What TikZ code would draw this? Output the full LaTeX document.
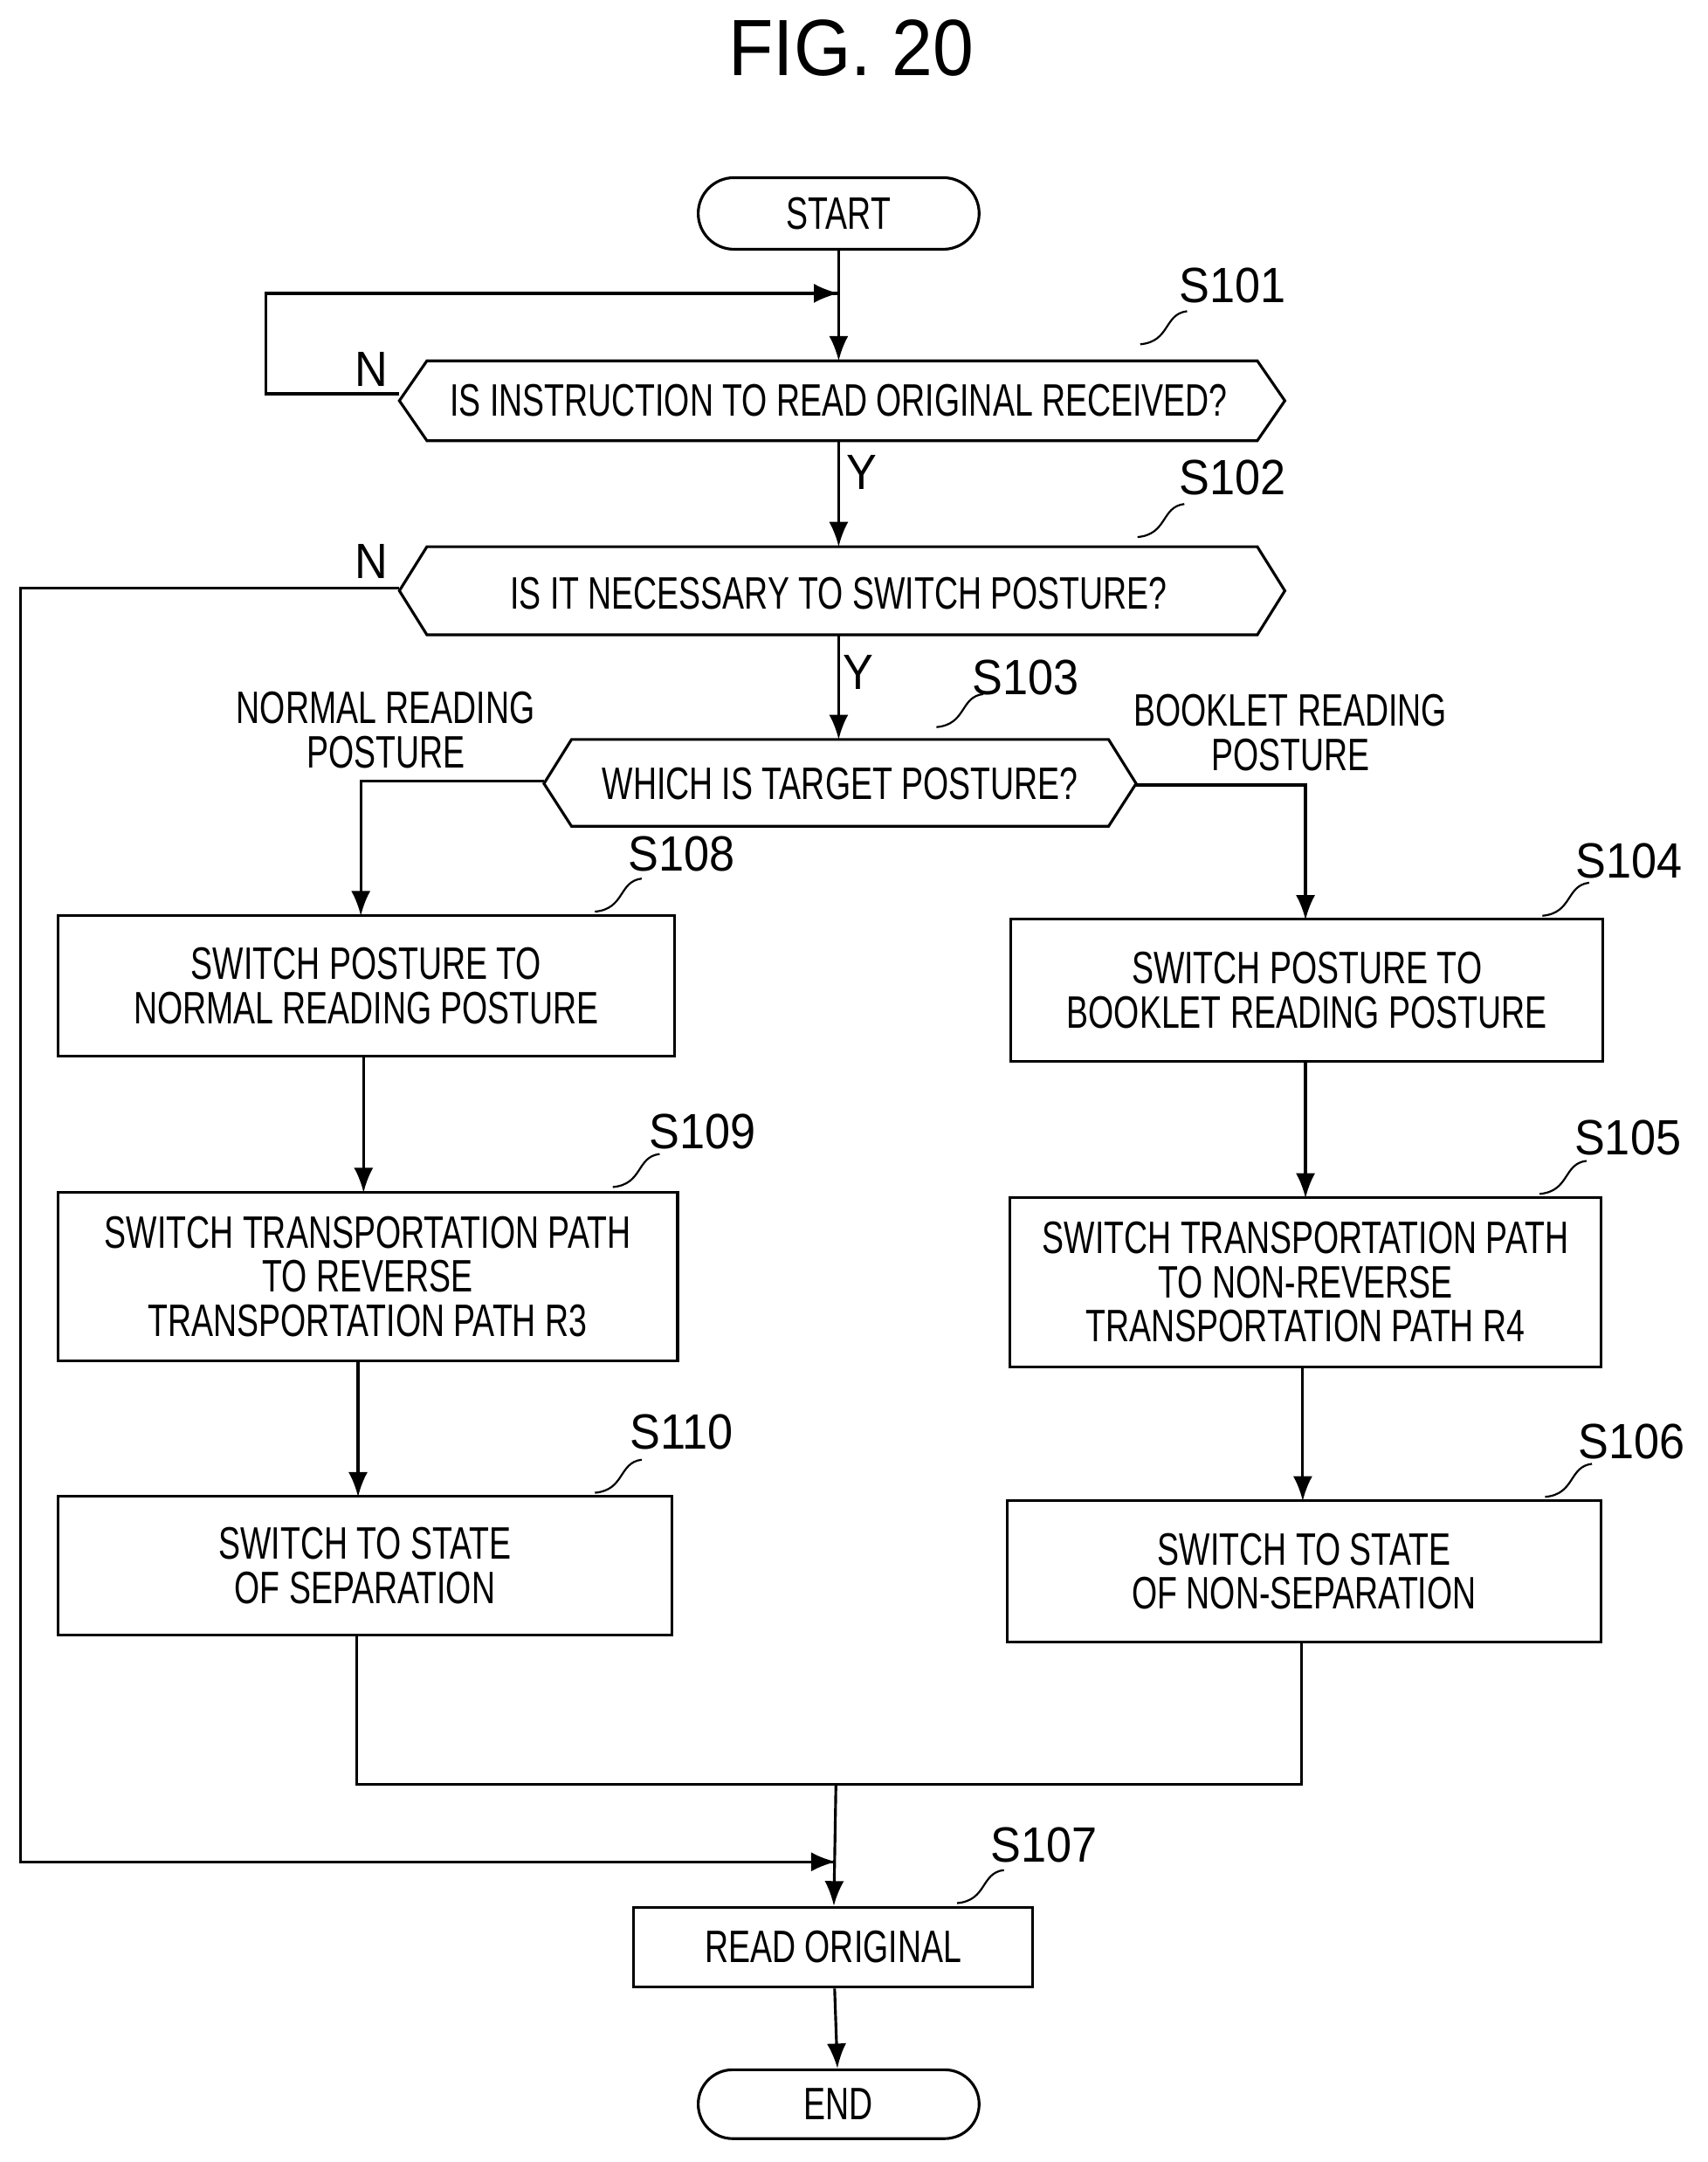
\documentclass[tikz,border=0pt]{standalone}
\usepackage{fontspec}
\setmainfont{Liberation Sans}[FakeStretch=0.72]
\newfontfamily\figfont{Liberation Sans}[FakeStretch=0.92]
\usetikzlibrary{arrows.meta}
\begin{document}
\begin{tikzpicture}[x=0.5pt,y=-0.5pt,
  every node/.style={font=\fontsize{16.5}{17}\selectfont, align=center, inner sep=0pt},
  ln/.style={line width=1pt},
  ar/.style={ln,-{Latex[length=9pt,width=7pt]}},
  lbl/.style={font=\figfont\fontsize{18}{20}\selectfont},
  sq/.style={line width=0.7pt}]
\useasboundingbox (0,0) rectangle (1240,1570);
\node[font=\figfont\fontsize{29}{32}\selectfont] (fig) at (618,35) {FIG. 20};
% start / end
\node[draw,ln,rounded corners=13pt,minimum width=102pt,minimum height=26pt] (start) at (609,155) {START};
\node[draw,ln,rounded corners=12.5pt,minimum width=102pt,minimum height=25pt] (end) at (609,1528) {END};
% hexagons
\draw[ln] (290,291)--(310,262)--(913,262)--(933,291)--(913,320)--(310,320)--cycle;
\node (s101) at (609,291) {IS INSTRUCTION TO READ ORIGINAL RECEIVED?};
\draw[ln] (290,429)--(310,397)--(913,397)--(933,429)--(913,461)--(310,461)--cycle;
\node (s102) at (609,431) {IS IT NECESSARY TO SWITCH POSTURE?};
\draw[ln] (395,569)--(415,537)--(805,537)--(825,569)--(805,600)--(415,600)--cycle;
\node (s103) at (610,569) {WHICH IS TARGET POSTURE?};
% boxes
\node[draw,ln,minimum width=224pt,minimum height=51pt] (s108) at (266,716) {SWITCH POSTURE TO\\[-1pt]NORMAL READING POSTURE};
\node[draw,ln,minimum width=225pt,minimum height=61pt] (s109) at (267,927) {SWITCH TRANSPORTATION PATH\\[-1pt]TO REVERSE\\[-1pt]TRANSPORTATION PATH R3};
\node[draw,ln,minimum width=223pt,minimum height=50.5pt] (s110) at (265,1137) {SWITCH TO STATE\\[-1pt]OF SEPARATION};
\node[draw,ln,minimum width=215pt,minimum height=51.5pt] (s104) at (949,719) {SWITCH POSTURE TO\\[-1pt]BOOKLET READING POSTURE};
\node[draw,ln,minimum width=214.5pt,minimum height=61.5pt] (s105) at (948,931) {SWITCH TRANSPORTATION PATH\\[-1pt]TO NON-REVERSE\\[-1pt]TRANSPORTATION PATH R4};
\node[draw,ln,minimum width=215.5pt,minimum height=51.5pt] (s106) at (947,1141) {SWITCH TO STATE\\[-1pt]OF NON-SEPARATION};
\node[draw,ln,minimum width=145pt,minimum height=29pt] (s107) at (605,1414) {READ ORIGINAL};
% step labels
\node[lbl] (l101) at (895,207) {S101};
\node[lbl] (l102) at (895,347) {S102};
\node[lbl] (l103) at (745,492) {S103};
\node[lbl] (l108) at (495,620) {S108};
\node[lbl] (l109) at (510,822) {S109};
\node[lbl] (l110) at (495,1040) {S110};
\node[lbl] (l104) at (1183,625) {S104};
\node[lbl] (l105) at (1182,826) {S105};
\node[lbl] (l106) at (1185,1047) {S106};
\node[lbl] (l107) at (758,1340) {S107};
\draw[sq] (828,250) .. controls (850,248) and (845,228) .. (862,226);
\draw[sq] (826,390) .. controls (848,388) and (843,368) .. (860,366);
\draw[sq] (680,528) .. controls (702,526) and (697,506) .. (714,504);
\draw[sq] (432,662) .. controls (454,660) and (449,640) .. (466,638);
\draw[sq] (445,862) .. controls (467,860) and (462,840) .. (479,838);
\draw[sq] (432,1084) .. controls (454,1082) and (449,1062) .. (466,1060);
\draw[sq] (1120,665) .. controls (1142,663) and (1137,643) .. (1154,641);
\draw[sq] (1118,867) .. controls (1140,865) and (1135,845) .. (1152,843);
\draw[sq] (1122,1087) .. controls (1144,1085) and (1139,1065) .. (1156,1063);
\draw[sq] (695,1382) .. controls (717,1380) and (712,1360) .. (729,1358);
% Y/N labels
\node[lbl] (n1) at (270,268) {N};
\node[lbl] (n2) at (270,408) {N};
\node[lbl] (y1) at (626,343) {Y};
\node[lbl] (y2) at (623,488) {Y};
\node (np) at (280,530) {NORMAL READING\\[-1pt]POSTURE};
\node (bp) at (937,532) {BOOKLET READING\\[-1pt]POSTURE};
% connectors
\coordinate (j1) at (609,213);
\coordinate (j2) at (607,1352);
\coordinate (j3) at (607,1296);
\draw[ar] (start) -- (609,262);
\draw[ar] (609,320) -- (609,397);
\draw[ar] (609,461) -- (609,537);
\draw[ln] (290,286) -- (193,286) -- (193,213) -- (j1);
\draw[ar] (193,213) -- (609,213);
\draw[ln] (290,427) -- (15,427) -- (15,1352) -- (j2);
\draw[ar] (15,1352) -- (607,1352);
\draw[ar] (395,567) -- (262,567) -- (262,665);
\draw[ar] (825,570) -- (948,570) -- (948,668);
\draw[ar] (264,767) -- (264,866);
\draw[ar] (260,988) -- (260,1087);
\draw[ar] (948,771) -- (948,870);
\draw[ar] (946,993) -- (946,1090);
\draw[ln] (259,1188) -- (259,1296) -- (945,1296) -- (945,1193);
\draw[ar] (j3) -- (s107);
\draw[ar] (s107) -- (end);
\end{tikzpicture}
\end{document}
